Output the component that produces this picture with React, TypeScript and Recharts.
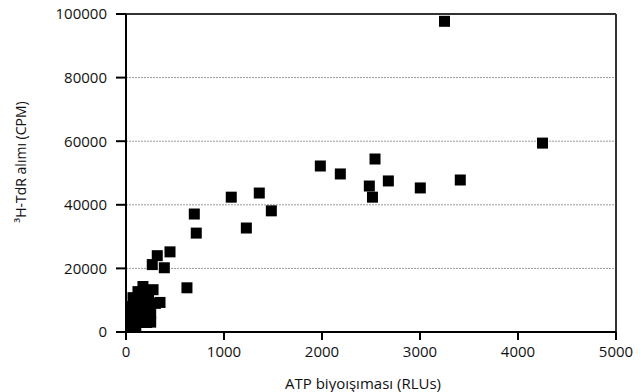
import { ScatterChart, Scatter, XAxis, YAxis, CartesianGrid, ReferenceLine } from "recharts";

// ATP bioluminescence (RLU) vs 3H-TdR uptake (CPM)
const rluValues = [
  3250, 4250, 1983, 2187, 2541, 2483, 2515, 2677, 3003, 3411,
  1483, 1360, 1074, 1228, 697, 717, 622, 319, 449, 268, 391,
  51, 71, 122, 173, 276, 347, 252, 252, 150, 51, 100, 100, 150, 200, 200, 60, 230, 300,
  55, 55, 120, 180, 180, 220, 130, 210, 90,
];
const cpmValues = [
  97700, 59400, 52200, 49700, 54400, 45900, 42400, 47500, 45300, 47800,
  38100, 43700, 42400, 32700, 37100, 31100, 13900, 24000, 25200, 21200, 20200,
  8000, 10800, 12700, 14300, 13300, 9300, 6000, 3100, 3100, 1800, 1800, 6000, 8000, 10000, 5000, 4500, 11000, 9000,
  6000, 3500, 9500, 7000, 12000, 8000, 4500, 3000, 8500,
];
const xTicks = [0, 1000, 2000, 3000, 4000, 5000];
const yTicks = [0, 20000, 40000, 60000, 80000, 100000];

const points = rluValues.map((x, i) => ({ x, y: cpmValues[i] }));

const FONT = "'Open Sans', sans-serif";
const TEXT = "#111";
const MARK = 11;

const SquareMark = ({ cx, cy }: any) => (
  <rect x={cx - MARK / 2} y={cy - MARK / 2} width={MARK} height={MARK} fill="#000" />
);

const YTitle = ({ viewBox }: any) => {
  const cx = viewBox.x + 20;
  const cy = viewBox.y + viewBox.height / 2 - 11;
  return (
    <text x={cx} y={cy} transform={`rotate(-90, ${cx}, ${cy})`} textAnchor="middle" dominantBaseline="central"
      fontFamily={FONT} fontSize={14} fill={TEXT}>
      ³H-TdR alımı (CPM)
    </text>
  );
};

const XTitle = ({ viewBox }: any) => (
  <text x={viewBox.x + viewBox.width / 2 - 8} y={viewBox.y + 57} textAnchor="middle"
    fontFamily={FONT} fontSize={15} fill={TEXT}>
    ATP biyoışıması (RLUs)
  </text>
);

export default function App() {
  return (
    <div style={{ position: "absolute", left: 0, top: 0, background: "#fff" }}>
      <ScatterChart width={641} height={392} margin={{ top: 14, right: 25, bottom: 0, left: 0 }}>
        <CartesianGrid vertical={false} stroke="#999" strokeDasharray="2 1" />
        <XAxis type="number" dataKey="x" domain={[0, 5000]} ticks={xTicks} height={60}
          tick={{ fill: TEXT, fontSize: 15, fontFamily: FONT }} tickSize={8} tickMargin={6}
          axisLine={{ stroke: "#000", strokeWidth: 2 }} tickLine={{ stroke: "#000", strokeWidth: 2 }}
          label={<XTitle />} />
        <YAxis type="number" dataKey="y" domain={[0, 100000]} ticks={yTicks} width={126}
          tick={{ fill: TEXT, fontSize: 15, fontFamily: FONT }} tickSize={10} tickMargin={9}
          axisLine={{ stroke: "#000", strokeWidth: 2 }} tickLine={{ stroke: "#000", strokeWidth: 2 }}
          label={<YTitle />} />
        <ReferenceLine y={100000} stroke="#333" strokeWidth={2} />
        <ReferenceLine x={5000} stroke="#333" strokeWidth={2} />
        <Scatter data={points} shape={<SquareMark />} isAnimationActive={false} />
      </ScatterChart>
    </div>
  );
}
